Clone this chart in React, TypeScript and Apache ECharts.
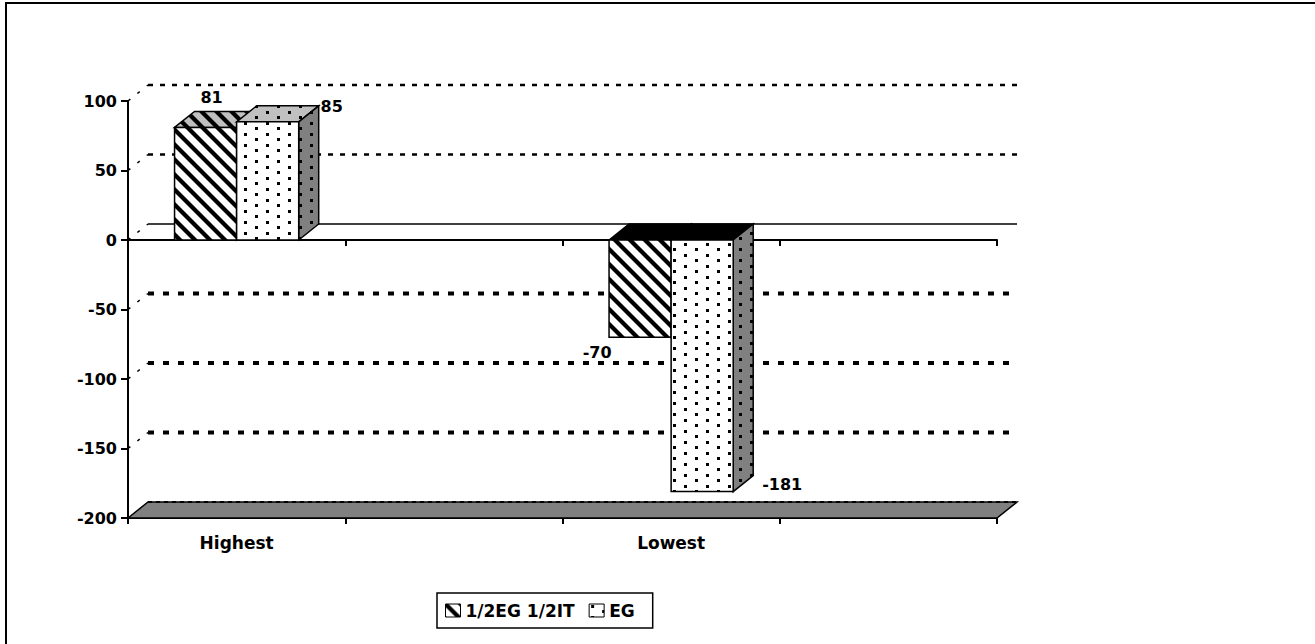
import React, { useEffect, useRef } from 'react';
import * as echarts from 'echarts';

// ---- data ----
const categories = ['Highest', '', 'Lowest', ''];
const seriesNames = ['1/2EG 1/2IT', 'EG'];
const halfEgHalfIt: (number | null)[] = [81, null, -70, null];
const egValues: (number | null)[] = [85, null, -181, null];
const yTicks = [100, 50, 0, -50, -100, -150, -200];
const Y_MIN = -200;
const Y_MAX = 100;
const Y_STEP = 50;

// ---- style ----
const DX = 20;
const DY = -16;
const GAP = 1.5;
const FONT = '"DejaVu Sans", Verdana, sans-serif';
// label anchor offsets relative to the front-face centre x and the value end y
const labelOffsets = [
  { pos: [6, -30], neg: [-43, 15] },
  { pos: [64, -15], neg: [80, -7] },
];

function makePattern(kind: 'stripe' | 'dot', bg: string) {
  const W = kind === 'stripe' ? 15 : 22;
  const H = kind === 'stripe' ? 15 : 11;
  const c = document.createElement('canvas');
  c.width = W;
  c.height = H;
  const g = c.getContext('2d')!;
  g.fillStyle = bg;
  g.fillRect(0, 0, W, H);
  g.fillStyle = '#000';
  g.strokeStyle = '#000';
  if (kind === 'stripe') {
    g.lineWidth = 4.2;
    for (const k of [-1, 0, 1]) {
      g.beginPath();
      g.moveTo(k * W - 3, -3);
      g.lineTo(k * W + W + 3, H + 3);
      g.stroke();
    }
  } else {
    g.fillRect(2, 1, 3, 3);
    g.fillRect(13, 6, 3, 3);
  }
  return { image: c, repeat: 'repeat', imageWidth: W, imageHeight: H } as any;
}

function gridStyle(v: number) {
  if (v > 0) return { stroke: '#000', lineWidth: 2.5, lineDash: [5, 7] };
  if (v === 0) return { stroke: '#000', lineWidth: 1.6 };
  return { stroke: '#000', lineWidth: 4, lineDash: [6, 9] };
}

export default function App() {
  const ref = useRef<HTMLDivElement>(null);
  useEffect(() => {
    document.body.style.margin = '0';
    const chart = echarts.init(ref.current!, null, { renderer: 'svg' });

    const front = [makePattern('stripe', '#ffffff'), makePattern('dot', '#ffffff')];
    const top = [makePattern('stripe', '#c0c0c0'), makePattern('dot', '#c0c0c0')];
    const side = [makePattern('stripe', '#808080'), makePattern('dot', '#808080')];

    const wallSeries = {
      type: 'custom',
      name: 'walls',
      silent: true,
      z: 1,
      data: yTicks.map((v) => [0, v]),
      renderItem: (params: any, api: any) => {
        const cs = params.coordSys;
        const xL = cs.x;
        const xR = cs.x + cs.width;
        const v = api.value(1);
        const y = api.coord([0, v])[1];
        const children: any[] = [];
        if (v === Y_MIN) {
          children.push({
            type: 'polygon',
            shape: { points: [[xL, y], [xL + DX, y + DY], [xR + DX, y + DY], [xR, y]] },
            style: { fill: '#808080', stroke: '#000', lineWidth: 1.5 },
          });
          children.push({
            type: 'line',
            shape: { x1: xL + DX, y1: y + DY, x2: xR + DX, y2: y + DY },
            style: { stroke: '#000', lineWidth: 2, lineDash: [4, 4] },
          });
        } else {
          children.push({
            type: 'line',
            shape: { x1: xL + DX, y1: y + DY, x2: xR + DX, y2: y + DY },
            style: gridStyle(v),
          });
          children.push({
            type: 'line',
            shape: { x1: xL, y1: y, x2: xL + DX, y2: y + DY },
            style: { stroke: '#000', lineWidth: 1.5, lineDash: [3, 9] },
          });
        }
        return { type: 'group', children };
      },
    };

    const barSeries = (idx: number, values: (number | null)[]) => ({
      type: 'custom',
      name: seriesNames[idx],
      z: 3 + idx,
      itemStyle: { color: front[idx] },
      data: values.map((v, i) => [i, v]).filter((d) => d[1] != null),
      renderItem: (params: any, api: any) => {
        const cat = api.value(0);
        const v = api.value(1);
        const base = api.coord([cat, 0]);
        const end = api.coord([cat, v]);
        const band = api.size([1, 0])[0];
        const barW = band / (2 + GAP);
        const x0 = base[0] - barW + idx * barW;
        const x1 = x0 + barW;
        const yA = Math.min(base[1], end[1]);
        const yB = Math.max(base[1], end[1]);
        const edge = { stroke: '#000', lineWidth: 1.5 };
        const off = v >= 0 ? labelOffsets[idx].pos : labelOffsets[idx].neg;
        const cx = (x0 + x1) / 2;
        return {
          type: 'group',
          children: [
            {
              type: 'polygon',
              shape: { points: [[x0, yA], [x0 + DX, yA + DY], [x1 + DX, yA + DY], [x1, yA]] },
              style: { fill: v >= 0 ? top[idx] : '#000', ...edge },
            },
            {
              type: 'polygon',
              shape: { points: [[x1, yA], [x1 + DX, yA + DY], [x1 + DX, yB + DY], [x1, yB]] },
              style: { fill: side[idx], ...edge },
            },
            {
              type: 'rect',
              shape: { x: x0, y: yA, width: barW, height: yB - yA },
              style: { fill: front[idx], ...edge },
            },
            {
              type: 'text',
              x: cx + off[0],
              y: end[1] + off[1],
              style: {
                text: String(v),
                fill: '#000',
                fontSize: 16,
                fontWeight: 'bold',
                fontFamily: FONT,
                align: 'center',
                verticalAlign: 'middle',
              },
            },
          ],
        };
      },
    });

    const option: any = {
      animation: false,
      backgroundColor: '#fff',
      grid: { left: 128, top: 101, width: 869, height: 417, containLabel: false, outerBoundsMode: 'none' },
      legend: {
        data: seriesNames.map((n) => ({ name: n, icon: 'rect' })),
        left: 437,
        top: 593,
        orient: 'horizontal',
        itemWidth: 15,
        itemHeight: 13,
        itemGap: 14,
        padding: [9, 18, 9, 8],
        borderColor: '#000',
        borderWidth: 1.5,
        itemStyle: { borderColor: '#000', borderWidth: 1 },
        textStyle: { color: '#000', fontSize: 17, fontWeight: 'bold', fontFamily: FONT },
      },
      xAxis: [
        {
          type: 'category',
          data: categories,
          position: 'bottom',
          boundaryGap: true,
          axisLine: { show: true, onZero: false, lineStyle: { color: '#000', width: 2 } },
          axisTick: { show: true, length: 6, interval: 0, lineStyle: { color: '#000', width: 2 } },
          axisLabel: {
            interval: 0,
            margin: 16,
            color: '#000',
            fontSize: 17,
            fontWeight: 'bold',
            fontFamily: FONT,
          },
          splitLine: { show: false },
        },
        {
          type: 'category',
          data: categories,
          position: 'bottom',
          boundaryGap: true,
          axisLine: { show: true, onZero: true, lineStyle: { color: '#000', width: 2 } },
          axisTick: { show: true, length: 6, interval: 0, lineStyle: { color: '#000', width: 2 } },
          axisLabel: { show: false },
          splitLine: { show: false },
        },
      ],
      yAxis: {
        type: 'value',
        min: Y_MIN,
        max: Y_MAX,
        interval: Y_STEP,
        axisLine: { show: true, lineStyle: { color: '#000', width: 2 } },
        axisTick: { show: true, length: 7, lineStyle: { color: '#000', width: 2 } },
        axisLabel: { margin: 11, color: '#000', fontSize: 16, fontWeight: 'bold', fontFamily: FONT },
        splitLine: { show: false },
      },
      graphic: [
        {
          type: 'rect',
          silent: true,
          z: -10,
          shape: { x: 6, y: 3, width: 1400, height: 700 },
          style: { fill: 'none', stroke: '#000', lineWidth: 2 },
        },
      ],
      series: [wallSeries, barSeries(0, halfEgHalfIt), barSeries(1, egValues)],
    };
    chart.setOption(option);
    return () => chart.dispose();
  }, []);
  return <div ref={ref} style={{ width: 1315, height: 644 }} />;
}
